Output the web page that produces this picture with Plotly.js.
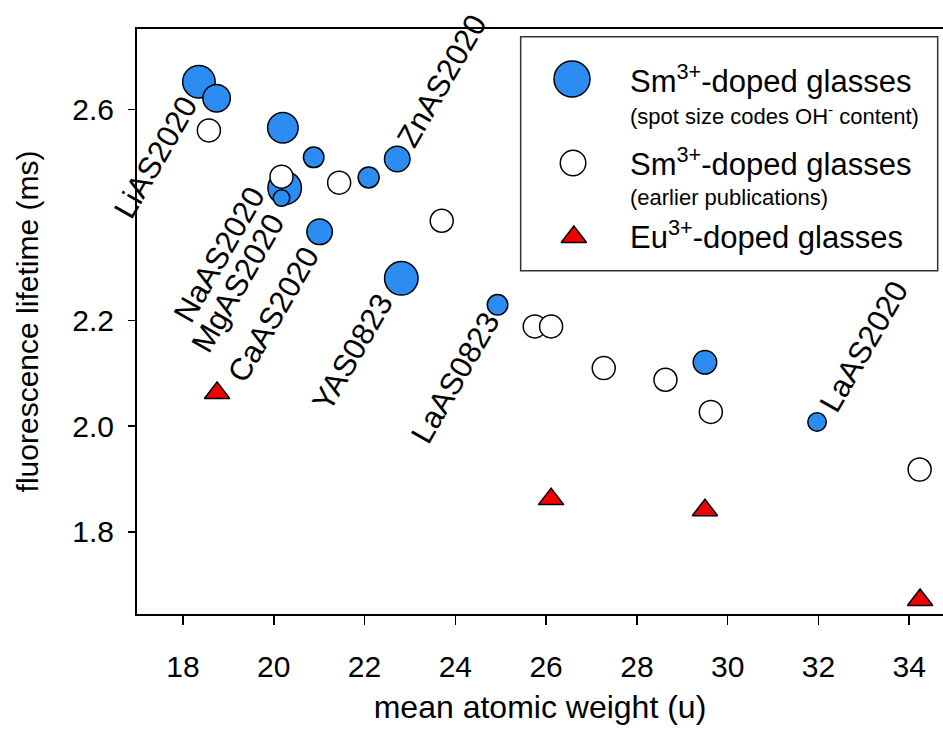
<!DOCTYPE html>
<html>
<head>
<meta charset="utf-8">
<script src="https://cdn.plot.ly/plotly-3.0.1.min.js"></script>
<style>html,body{margin:0;padding:0;background:#fff}#chart{width:943px;height:738px}</style>
</head>
<body>
<div id="chart"></div>
<script>
// ---- data ----
// Sm3+-doped glasses (this work) - spot size codes OH- content
const smNewX = [18.35, 18.74, 20.20, 20.88, 20.24, 20.17, 21.01, 22.09, 22.72, 22.81, 24.93, 29.50, 31.97];
const smNewY = [2.652, 2.621, 2.565, 2.509, 2.451, 2.432, 2.368, 2.471, 2.506, 2.280, 2.230, 2.121, 2.008];
const smNewSpot = [34, 29, 32, 22, 35, 18, 27, 22.5, 27, 35, 22, 25, 20];
// Sm3+-doped glasses (earlier publications)
const smOldX = [18.57, 20.17, 21.44, 23.70, 25.75, 26.11, 27.27, 28.63, 29.63, 34.23];
const smOldY = [2.560, 2.4725, 2.461, 2.389, 2.189, 2.189, 2.110, 2.088, 2.027, 1.918];
// Eu3+-doped glasses
const euX = [18.75, 26.11, 29.50, 34.24];
const euY = [2.063, 1.862, 1.841, 1.671];
// sample labels (index into the Sm3+ new series)
const labelTexts = ['LiAS2020', 'NaAS2020', 'MgAS2020', 'CaAS2020', 'ZnAS2020', 'YAS0823', 'LaAS0823', 'LaAS2020'];
const labelIdx = [0, 4, 5, 6, 8, 9, 10, 12];
// axis ticks
const xTicks = [18, 20, 22, 24, 26, 28, 30, 32, 34];
const yTicks = [1.8, 2.0, 2.2, 2.6];
const legendTitles = ['Sm<sup>3+</sup>-doped glasses', '(spot size codes OH<sup>-</sup> content)',
  'Sm<sup>3+</sup>-doped glasses', '(earlier publications)', 'Eu<sup>3+</sup>-doped glasses'];

// ---- styling ----
const FONT = 'Liberation Sans, Arial, Helvetica, sans-serif';
const BLUE = '#2B8CF2';
const RED = '#F00000';
const labelOffsets = [[-43, 76], [-65, 67], [-44, 85], [-46, 83], [45, -78], [-49, 74], [-42, 73], [47, -75]];

const traces = [
  {x: smNewX, y: smNewY, type: 'scatter', mode: 'markers', hoverinfo: 'skip',
   marker: {symbol: 'circle', color: BLUE, opacity: 1, size: smNewSpot.map(s => s - 1.5), line: {color: '#000', width: 1.5}}},
  {x: smOldX, y: smOldY, type: 'scatter', mode: 'markers', hoverinfo: 'skip',
   marker: {symbol: 'circle', color: '#fff', opacity: 1, size: 23, line: {color: '#000', width: 1.5}}},
  {x: euX, y: euY, type: 'scatter', mode: 'markers', hoverinfo: 'skip',
   marker: {symbol: 'triangle-up', color: RED, opacity: 1, size: 22, line: {color: '#000', width: 1.5}}},
  // legend glyphs on a helper [0,1] axis pair
  {x: [0.5397, 0.541, 0.542], y: [0.9145, 0.771, 0.6444], xaxis: 'x2', yaxis: 'y2',
   type: 'scatter', mode: 'markers', hoverinfo: 'skip',
   marker: {symbol: ['circle', 'circle', 'triangle-up'], color: [BLUE, '#fff', RED], opacity: 1,
            size: [36, 25.5, 22], line: {color: '#000', width: 1.5}}}
];

const annotations = labelTexts.map((t, i) => ({
  x: smNewX[labelIdx[i]], y: smNewY[labelIdx[i]], xref: 'x', yref: 'y',
  xanchor: 'center', yanchor: 'middle',
  text: t, textangle: -60, showarrow: false,
  xshift: labelOffsets[i][0], yshift: -labelOffsets[i][1],
  font: {family: FONT, size: 31, color: '#000'}
}));
const legY = [0.9144, 0.853, 0.7725, 0.7127, 0.6477];
const legSize = [31, 22, 31, 22, 31];
legendTitles.forEach((t, i) => annotations.push({
  x: 0.6088, y: legY[i], xref: 'paper', yref: 'paper', xanchor: 'left', yanchor: 'middle',
  text: t, showarrow: false, font: {family: FONT, size: legSize[i], color: '#000'}
}));

const layout = {
  width: 943, height: 738,
  margin: {l: 137, r: 0, t: 29, b: 124, pad: 0},
  paper_bgcolor: '#fff', plot_bgcolor: '#fff',
  showlegend: false,
  font: {family: FONT, color: '#000'},
  xaxis: {range: [16.986, 34.745], tickvals: xTicks, ticktext: xTicks.map(String),
          ticks: 'outside', ticklen: 9, tickwidth: 1.5, tickcolor: '#000',
          showline: true, linecolor: '#000', linewidth: 2, mirror: true,
          showgrid: false, zeroline: false, ticklabelstandoff: 16,
          tickfont: {family: FONT, size: 30},
          title: {text: 'mean atomic weight (u)', font: {family: FONT, size: 32}, standoff: 14}},
  yaxis: {range: [1.6445, 2.752], tickvals: yTicks, ticktext: yTicks.map(v => v.toFixed(1)),
          ticks: 'outside', ticklen: 7, tickwidth: 1.5, tickcolor: '#000',
          showline: true, linecolor: '#000', linewidth: 2, mirror: false,
          showgrid: false, zeroline: false, ticklabelstandoff: 8,
          tickfont: {family: FONT, size: 30},
          title: {text: 'fluorescence lifetime (ms)', font: {family: FONT, size: 30}, standoff: 25}},
  xaxis2: {overlaying: 'x', range: [0, 1], visible: false, fixedrange: true},
  yaxis2: {overlaying: 'y', range: [0, 1], visible: false, fixedrange: true},
  shapes: [{type: 'rect', xref: 'paper', yref: 'paper', x0: 0.476, x1: 0.9934, y0: 0.5868, y1: 0.9868,
            line: {color: '#333', width: 1.5}, fillcolor: 'rgba(0,0,0,0)', layer: 'below'}],
  annotations: annotations
};

Plotly.newPlot('chart', traces, layout, {staticPlot: true, displayModeBar: false});
</script>
</body>
</html>
